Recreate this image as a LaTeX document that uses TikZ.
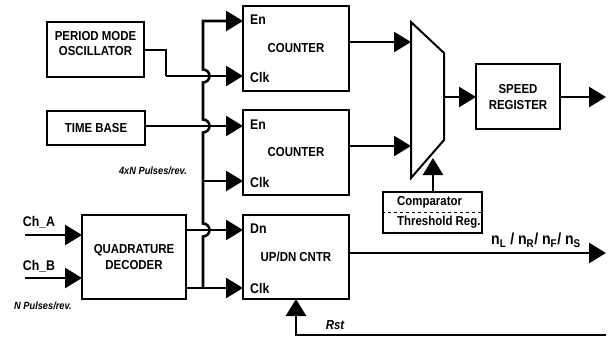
\documentclass[tikz,border=0pt]{standalone}
\usepackage{fontspec}
\setmainfont{Liberation Sans}[FakeStretch=0.88]
\usetikzlibrary{arrows.meta}
\tikzstyle{blk}=[draw=black,line width=2pt,inner sep=0pt,align=center,
  font=\bfseries\fontsize{13}{15.5}\selectfont]
\tikzstyle{txt}=[inner sep=0pt,align=center,font=\bfseries\fontsize{13}{15.5}\selectfont]
\tikzstyle{port}=[anchor=west,inner sep=0pt,font=\bfseries\fontsize{14}{16}\selectfont]
\tikzstyle{note}=[inner sep=0pt,font=\bfseries\itshape\fontsize{10.5}{12}\selectfont]
\tikzstyle{sig}=[line width=2.6pt,-{Triangle[length=17pt,width=20pt]}]
\tikzstyle{wire}=[line width=2.6pt]
\tikzstyle{none}=[inner sep=0pt]

\begin{document}
\begin{tikzpicture}[x=1pt, y=1pt]
            \useasboundingbox (0,0) rectangle (608,338);
            % blocks
            \node [style=blk,minimum width=97pt,minimum height=55pt] (0) at (95.5, 288.5) {};
            \node [style=txt] (1) at (95.5, 294.5) {PERIOD MODE\\OSCILLATOR};
            \node [style=blk,minimum width=98pt,minimum height=34pt] (2) at (96, 210) {TIME BASE};
            \node [style=blk,minimum width=104pt,minimum height=84pt] (3) at (134, 81) {QUADRATURE\\DECODER};
            \node [style=blk,minimum width=106pt,minimum height=85pt] (4) at (296, 289.5) {COUNTER};
            \node [style=blk,minimum width=106pt,minimum height=85pt] (5) at (296, 185.5) {COUNTER};
            \node [style=blk,minimum width=106pt,minimum height=84pt] (6) at (296, 81) {UP/DN CNTR};
            \node [style=blk,minimum width=84pt,minimum height=65pt] (7) at (518, 241) {SPEED\\REGISTER};
            \node [style=blk,minimum width=99pt,minimum height=41pt] (8) at (432.5, 125.5) {};
            \node [style=port,font=\bfseries\fontsize{13}{15}\selectfont] (9) at (397, 136) {Comparator};
            \node [style=port,font=\bfseries\fontsize{13}{15}\selectfont] (10) at (397, 115.5) {Threshold Reg.};
            \draw [dashed, line width=0.8pt] (8.west) to (8.east);
            % selector
            \draw [line width=2pt] (411, 316) -- (444, 285) -- (444, 198) -- (411, 160) -- cycle;
            % port labels
            \node [style=port] (11) at (250, 318) {En};
            \node [style=port] (12) at (250, 261) {Clk};
            \node [style=port] (13) at (250, 213) {En};
            \node [style=port] (14) at (250, 156) {Clk};
            \node [style=port] (15) at (250, 109) {Dn};
            \node [style=port] (16) at (250, 50) {Clk};
            % connector points
            \node [style=none] (20) at (243, 317) {};
            \node [style=none] (21) at (243, 262) {};
            \node [style=none] (22) at (243, 212) {};
            \node [style=none] (23) at (243, 157) {};
            \node [style=none] (24) at (243, 108) {};
            \node [style=none] (25) at (243, 50) {};
            \node [style=none] (26) at (203, 317) {};
            \node [style=none] (27) at (203, 157) {};
            \node [style=none] (28) at (203, 50) {};
            \node [style=none] (29) at (144, 288) {};
            \node [style=none] (30) at (166, 288) {};
            \node [style=none] (31) at (166, 262) {};
            \node [style=none] (32) at (145, 212) {};
            \node [style=none] (33) at (186, 108) {};
            \node [style=none] (34) at (186, 50) {};
            \node [style=none] (35) at (25, 103) {};
            \node [style=none] (36) at (82, 103) {};
            \node [style=none] (37) at (25, 60) {};
            \node [style=none] (38) at (82, 60) {};
            \node [style=none] (39) at (349, 296) {};
            \node [style=none] (40) at (411, 296) {};
            \node [style=none] (41) at (349, 192) {};
            \node [style=none] (42) at (411, 192) {};
            \node [style=none] (43) at (444, 241) {};
            \node [style=none] (44) at (476, 241) {};
            \node [style=none] (45) at (560, 241) {};
            \node [style=none] (46) at (606, 241) {};
            \node [style=none] (47) at (349, 85) {};
            \node [style=none] (48) at (606, 85) {};
            \node [style=none] (49) at (606, 3) {};
            \node [style=none] (50) at (296, 3) {};
            \node [style=none] (51) at (296, 39) {};
            \node [style=none] (52) at (433, 146) {};
            \node [style=none] (53) at (433, 180) {};
            % texts
            \node [style=txt,font=\bfseries\fontsize{14}{16}\selectfont] (60) at (39, 116) {Ch\_A};
            \node [style=txt,font=\bfseries\fontsize{14}{16}\selectfont] (61) at (39, 72) {Ch\_B};
            \node [style=note] (62) at (43, 32) {N Pulses/rev.};
            \node [style=note] (63) at (153, 167) {4xN Pulses/rev.};
            \node [style=note,font=\bfseries\itshape\fontsize{13}{15}\selectfont] (64) at (335, 13) {Rst};
            \node [style=txt,font=\bfseries\fontsize{16}{18}\selectfont] (65) at (536, 98)
              {n\textsubscript{L} / n\textsubscript{R}/ n\textsubscript{F}/ n\textsubscript{S}};
            % connectors
            \draw [style=wire] (29.center) to (30.center) to (31.center);
            \draw [style=sig] (31.center) to (21.center);
            \draw [style=sig] (32.center) to (22.center);
            \draw [style=sig] (35.center) to (36.center);
            \draw [style=sig] (37.center) to (38.center);
            \draw [style=sig] (33.center) to (24.center);
            \draw [style=sig] (34.center) to (25.center);
            \draw [style=sig] (28.center) -- (203, 101.5) arc (-90:90:6.5) -- (203, 205.5) arc (-90:90:6.5)
              -- (203, 255.5) arc (-90:90:6.5) -- (26.center) -- (20.center);
            \draw [style=sig] (27.center) to (23.center);
            \draw [style=sig] (39.center) to (40.center);
            \draw [style=sig] (41.center) to (42.center);
            \draw [style=sig] (43.center) to (44.center);
            \draw [style=sig] (45.center) to (46.center);
            \draw [style=sig] (47.center) to (48.center);
            \draw [style=sig] (49.center) -- (50.center) -- (51.center);
            \draw [style=sig] (52.center) to (53.center);
\end{tikzpicture}
\end{document}
